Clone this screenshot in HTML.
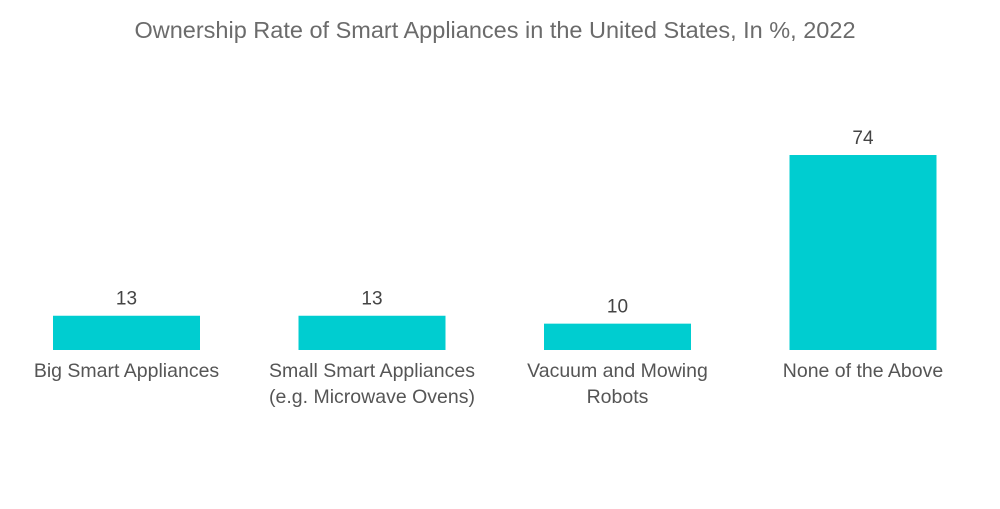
<!DOCTYPE html>
<html><head><meta charset="utf-8"><style>
body{margin:0;background:#fff;width:1000px;height:504px;overflow:hidden;font-family:"Liberation Sans",sans-serif}
svg text{font-family:"Liberation Sans",sans-serif}
</style></head><body>
<svg id="chart" width="1000" height="504" viewBox="0 0 1000 504">
<text x="495" y="38" text-anchor="middle" font-size="23.5" fill="#6b6b6b">Ownership Rate of Smart Appliances in the United States, In %, 2022</text>
<g id="bars"></g>
</svg>
<script>
const categories=[["Big Smart Appliances"],["Small Smart Appliances","(e.g. Microwave Ovens)"],["Vacuum and Mowing","Robots"],["None of the Above"]];
const values=[13,13,10,74];
const baseY=350, pxPerUnit=2.635, x0=53, pitch=245.5, bw=147;
const yScale=v=>baseY-v*pxPerUnit;
const xScale=i=>x0+i*pitch;
const g=document.getElementById('bars');
const NS='http://www.w3.org/2000/svg';
values.forEach((v,i)=>{
  const r=document.createElementNS(NS,'rect');
  
  
  r.setAttribute('x',xScale(i));r.setAttribute('y',yScale(v));
  r.setAttribute('width',bw);r.setAttribute('height',baseY-yScale(v));
  r.setAttribute('fill','#00cdd0');g.appendChild(r);
  const t=document.createElementNS(NS,'text');
  
  
  t.setAttribute('x',xScale(i)+bw/2);t.setAttribute('y',yScale(v)-11);
  t.setAttribute('text-anchor','middle');t.setAttribute('font-size','19');t.setAttribute('fill','#444');
  t.textContent=v;g.appendChild(t);
  categories[i].forEach((line,j)=>{
    const c=document.createElementNS(NS,'text');
    
    
    c.setAttribute('x',xScale(i)+bw/2);c.setAttribute('y',377+j*26);
    c.setAttribute('text-anchor','middle');c.setAttribute('font-size','19.5');c.setAttribute('fill','#555');
    c.textContent=line;g.appendChild(c);
  });
});
</script>
</body></html>
